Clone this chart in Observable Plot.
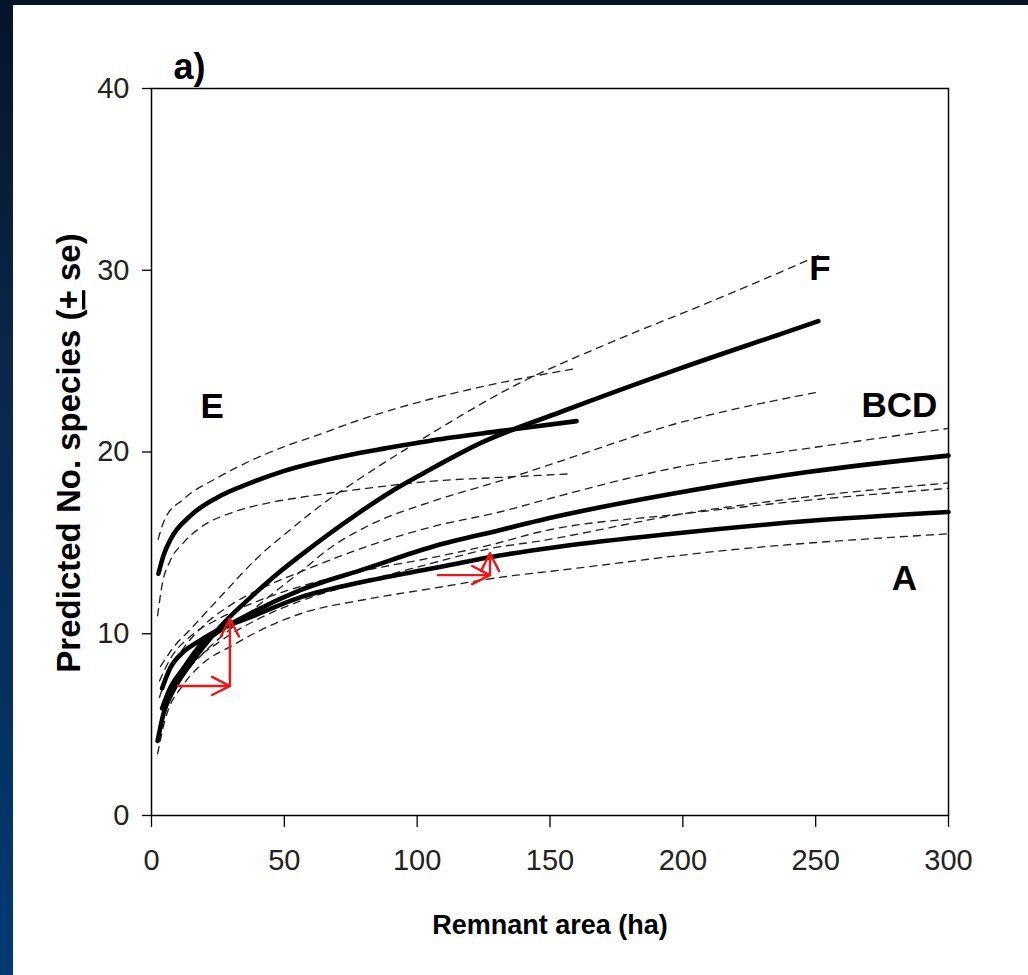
<!DOCTYPE html>
<html><head><meta charset="utf-8">
<script src="https://cdn.jsdelivr.net/npm/d3@7"></script>
<script src="https://cdn.jsdelivr.net/npm/@observablehq/plot@0.6"></script>
<style>
html,body{margin:0;padding:0;width:1028px;height:975px;overflow:hidden;}
body{background:linear-gradient(to bottom,#06142a 0%,#0a2648 35%,#013a74 100%);}
#panel{position:absolute;left:13px;top:5px;width:1015px;height:970px;background:#fff;}
</style></head><body><div id="panel"></div>
<script>
// ---- data ----
const xTicks = [0, 50, 100, 150, 200, 250, 300];
const yTicks = [0, 10, 20, 30, 40];

const E_fit = [[2.6,13.3],[4.5,14.3],[7.2,15.2],[14.7,16.5],[24.8,17.5],[37.3,18.3],[49.7,18.95],[62.5,19.45],[74.9,19.85],[88,20.2],[106,20.65],[131,21.15],[160,21.7]];
const E_up  = [[2.5,15.2],[5,16.3],[12,17.4],[25,18.6],[37,19.5],[50,20.3],[62,20.9],[75,21.6],[90,22.3],[110,23.1],[131,23.8],[160,24.6]];
const E_lo  = [[2.3,11.0],[4,12.7],[7,14.0],[12,15.0],[18,15.8],[31,16.7],[44,17.2],[56,17.5],[81,18.0],[106,18.4],[131,18.6],[158,18.8]];

const F_fit = [[2.3,4.1],[4.5,5.6],[8.3,6.9],[13.5,8.1],[19.6,9.3],[28.6,10.8],[37.3,12.0],[47.4,13.3],[56,14.3],[77.5,16.6],[90,17.8],[102,18.8],[124,20.5],[154,22.2],[199,24.6],[237,26.5],[251,27.2]];
const F_up  = [[3.4,8.2],[8,9.2],[15,10.3],[27,12.2],[40,14.2],[52,15.7],[65,17.2],[78,18.5],[94,20.0],[104,20.9],[136,23.6],[174,26.1],[211,28.3],[251,30.8]];
const F_lo  = [[3,5.0],[7,6.5],[12,7.7],[20,9.0],[30,10.3],[43,11.9],[56,13.4],[68,14.8],[81,15.9],[106,17.3],[131,18.4],[154,19.5],[196,21.5],[251,23.3]];

const A_fit = [[4,7.0],[7,8.1],[12,9.0],[18,9.6],[25,10.2],[37,10.9],[56,12.0],[81,12.9],[106,13.6],[131,14.3],[154,14.8],[196,15.5],[247,16.2],[300,16.7]];
const A_up  = [[3,7.4],[7,8.6],[15,9.9],[25,10.8],[40,11.8],[56,12.6],[81,13.5],[106,14.2],[128,14.9],[146,15.6],[200,16.6],[251,17.4],[300,18.0]];
const A_lo  = [[2.3,3.4],[5,5.2],[12,7.2],[18,8.2],[31,9.4],[44,10.4],[56,11.1],[81,11.9],[106,12.5],[131,13.1],[154,13.5],[217,14.6],[300,15.5]];

const BCD_fit = [[4,5.9],[7,7.0],[12,8.1],[18,9.3],[25,10.1],[37,11.1],[56,12.4],[81,13.6],[106,14.8],[131,15.7],[154,16.5],[196,17.7],[247,18.9],[300,19.8]];
const BCD_up  = [[3,6.5],[6,7.8],[12,9.2],[20,10.5],[30,11.6],[43,12.6],[56,13.4],[81,14.8],[106,15.9],[131,16.7],[154,17.6],[196,19.1],[247,20.2],[300,21.3]];
const BCD_lo  = [[4,5.3],[8,6.7],[15,8.3],[25,9.5],[40,10.8],[56,11.8],[81,12.9],[106,13.9],[128,14.7],[146,15.1],[200,16.6],[251,17.6],[300,18.3]];

const labelNames = ["E", "F", "BCD", "A"];
const labelX = [22.8, 251.6, 281.5, 283.4];
const labelY = [22.5, 30.1, 22.55, 13.05];

const arrowX1 = [10.2, 29.7, 108, 127.6];
const arrowY1 = [7.1, 7.1, 13.2, 13.2];
const arrowX2 = [29.7, 29.7, 127.6, 127.6];
const arrowY2 = [7.1, 10.8, 13.2, 14.4];

const panelTag = "a)";
const xTitle = "Remnant area (ha)";
const yTitleA = "Predicted No. species (";
const yTitlePm = "+";
const yTitleB = " se)";

// ---- tables ----
const series = [
  ["E","fit",E_fit],["E","up",E_up],["E","lo",E_lo],
  ["F","fit",F_fit],["F","up",F_up],["F","lo",F_lo],
  ["A","fit",A_fit],["A","up",A_up],["A","lo",A_lo],
  ["BCD","fit",BCD_fit],["BCD","up",BCD_up],["BCD","lo",BCD_lo]
];
const rows = series.flatMap(([g, role, pts]) => pts.map(([x, y]) => ({x, y, role, id: g + "-" + role})));
const fits = rows.filter(d => d.role === "fit");
const bands = rows.filter(d => d.role !== "fit");
const labels = labelNames.map((t, i) => ({t, x: labelX[i], y: labelY[i]}));
const arrows = arrowX1.map((_, i) => ({x1: arrowX1[i], y1: arrowY1[i], x2: arrowX2[i], y2: arrowY2[i]}));

const narrow = "'Liberation Sans Narrow', 'Arial Narrow', 'Liberation Sans', Arial, sans-serif";
const sans = "'Liberation Sans', Arial, sans-serif";

function redArrows(index, scales) {
  const g = d3.create("svg:g")
    .attr("stroke", "#f01414").attr("stroke-width", 2.4)
    .attr("fill", "none").attr("stroke-linecap", "round").attr("stroke-linejoin", "round");
  const L = 20, w = 27 * Math.PI / 180;
  for (const a of arrows) {
    const x1 = scales.x(a.x1), y1 = scales.y(a.y1), x2 = scales.x(a.x2), y2 = scales.y(a.y2);
    const ang = Math.atan2(y2 - y1, x2 - x1);
    g.append("path").attr("d",
      `M${x1},${y1}L${x2},${y2}` +
      `M${x2 - L * Math.cos(ang - w)},${y2 - L * Math.sin(ang - w)}L${x2},${y2}` +
      `L${x2 - L * Math.cos(ang + w)},${y2 - L * Math.sin(ang + w)}`);
  }
  return g.node();
}

const chart = Plot.plot({
  width: 1015,
  height: 970,
  marginLeft: 138,
  marginRight: 80,
  marginTop: 83,
  marginBottom: 160,
  style: {fontFamily: narrow, fontSize: "29px", color: "#111", background: "white", overflow: "visible"},
  x: {domain: [0, 300]},
  y: {domain: [0, 40]},
  marks: [
    Plot.line(bands, {x: "x", y: "y", z: "id", stroke: "#222", strokeWidth: 1.35, strokeDasharray: "7,6", curve: "monotone-x"}),
    Plot.line(fits, {x: "x", y: "y", z: "id", stroke: "#000", strokeWidth: 4.6, strokeLinecap: "round", curve: "monotone-x"}),
    redArrows,
    Plot.text(labels, {x: "x", y: "y", text: "t", fontFamily: narrow, fontWeight: "bold", fontSize: 35, fill: "#000", lineAnchor: "middle", textAnchor: "middle"}),
    Plot.frame({stroke: "#000", strokeWidth: 1.5}),
    Plot.axisX({ticks: xTicks, tickSize: 12, tickPadding: 22, label: null, stroke: "#000", strokeWidth: 1.3, fill: "#222", fontSize: 29}),
    Plot.axisY({ticks: yTicks, tickSize: 9, tickPadding: 13, label: null, stroke: "#000", strokeWidth: 1.3, fill: "#222", fontSize: 29}),
    Plot.text([panelTag], {frameAnchor: "top-left", dx: 22, dy: -10, textAnchor: "start", lineAnchor: "bottom", fontFamily: narrow, fontWeight: "bold", fontSize: 36, fill: "#000"}),
    Plot.text([xTitle], {frameAnchor: "bottom", dy: 118, lineAnchor: "bottom", fontFamily: sans, fontWeight: "bold", fontSize: 27, fill: "#000"})
  ]
});

// rotated y title with an underlined "+" (±)
const svg = d3.select(chart);
const yt = svg.append("text")
  .attr("transform", "translate(67,448) rotate(-90)")
  .attr("text-anchor", "middle")
  .attr("font-family", sans)
  .attr("font-weight", "bold")
  .attr("font-size", 33)
  .attr("fill", "#000");
yt.append("tspan").text(yTitleA);
yt.append("tspan").attr("text-decoration", "underline").text(yTitlePm);
yt.append("tspan").text(yTitleB);

document.getElementById("panel").appendChild(chart);
</script>
</body></html>
